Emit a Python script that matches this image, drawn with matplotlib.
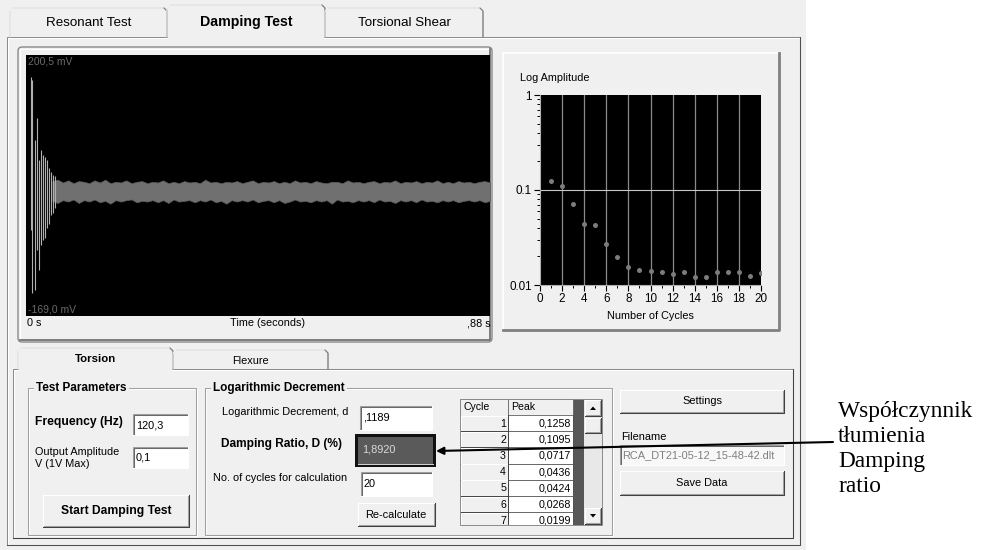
import matplotlib
matplotlib.use('Agg')
import matplotlib.pyplot as plt
from matplotlib.patches import Rectangle, Polygon, FancyBboxPatch
from matplotlib.ticker import LogLocator, NullFormatter, FixedLocator

W, H = 981, 550
UI = ['Liberation Sans', 'DejaVu Sans']
SERIF = ['Liberation Serif', 'DejaVu Serif']

# ---------------- data ----------------
main_tabs = ['Resonant Test', 'Damping Test', 'Torsional Shear']
sub_tabs = ['Torsion', 'Flexure']
cycle_numbers = [1, 2, 3, 4, 5, 6, 7, 8, 9, 10, 11, 12, 13, 14, 15, 16, 17, 18, 19, 20]
peak_values = [0.1258, 0.1095, 0.0717, 0.0436, 0.0424, 0.0268, 0.0199, 0.0153, 0.0144, 0.0141,
               0.0136, 0.0130, 0.0136, 0.0120, 0.0120, 0.0136, 0.0136, 0.0136, 0.0125, 0.0133]
rows_visible = 7
cycle_ticks = [0, 2, 4, 6, 8, 10, 12, 14, 16, 18, 20]
amp_ticks = [0.01, 0.1, 1]
amp_tick_labels = ['0.01', '0.1', '1']

wave_t_max = 0.88
wave_v_max = 200.5
wave_v_min = -169.0
# initial transient spikes (time s, upper mV, lower mV)
spike_t = [0.0095, 0.0123, 0.0171, 0.0209, 0.0247, 0.0285, 0.0323, 0.0361, 0.0398, 0.0436, 0.0474, 0.0512, 0.0550]
spike_hi = [169, 165, 80, 111, 52, 66, 59, 56, 52, 40, 35, 31, 29]
spike_lo = [-47, -136, -132, -76, -104, -68, -61, -59, -45, -39, -26, -23, -16]
# steady-state band envelope
band_t = [0.05, 0.06, 0.07, 0.08, 0.09, 0.10, 0.11, 0.12, 0.13, 0.14, 0.15, 0.16, 0.17, 0.18,
          0.19, 0.20, 0.21, 0.22, 0.23, 0.24, 0.25, 0.26, 0.27, 0.28, 0.29, 0.30, 0.31, 0.32,
          0.33, 0.34, 0.35, 0.36, 0.37, 0.38, 0.39, 0.40, 0.41, 0.42, 0.43, 0.44, 0.45, 0.46,
          0.47, 0.48, 0.49, 0.50, 0.51, 0.52, 0.53, 0.54, 0.55, 0.56, 0.57, 0.58, 0.59, 0.60,
          0.61, 0.62, 0.63, 0.64, 0.65, 0.66, 0.67, 0.68, 0.69, 0.70, 0.71, 0.72, 0.73, 0.74,
          0.75, 0.76, 0.77, 0.78, 0.79, 0.80, 0.81, 0.82, 0.83, 0.84, 0.85, 0.86, 0.87, 0.88]
band_hi = [22, 24, 20, 23, 19, 22, 21, 19, 23, 20, 24, 19, 21, 20, 23, 19, 21, 22, 19, 21,
           20, 23, 19, 21, 19, 22, 20, 21, 19, 24, 20, 21, 19, 21, 20, 22, 19, 21, 23, 19,
           21, 20, 22, 19, 21, 19, 23, 20, 21, 19, 22, 20, 19, 21, 21, 19, 23, 20, 21, 19,
           21, 22, 19, 21, 20, 23, 19, 21, 20, 22, 19, 21, 20, 23, 19, 21, 19, 22, 20, 21,
           19, 21, 22, 20]
band_lo = [-6, -9, -5, -7, -4, -9, -5, -7, -4, -8, -6, -10, -5, -7, -5, -4, -8, -6, -7, -5,
           -8, -5, -9, -4, -7, -6, -5, -8, -5, -7, -4, -8, -6, -10, -5, -7, -5, -7, -4, -8,
           -6, -5, -8, -5, -9, -7, -4, -7, -6, -8, -5, -7, -5, -10, -4, -7, -6, -8, -5, -7,
           -5, -8, -4, -7, -6, -9, -5, -7, -5, -8, -4, -7, -6, -8, -5, -7, -5, -8, -6, -5,
           -7, -5, -8, -6]

frequency_hz = '120,3'
output_amplitude = '0,1'
log_decrement = ',1189'
damping_ratio = '1,8920'
n_cycles = '20'
filename = 'RCA_DT21-05-12_15-48-42.dlt'
annotation_lines = ['Współczynnik', 'tłumienia', 'Damping', 'ratio']

# ---------------- helpers ----------------
fig = plt.figure(figsize=(W / 100, H / 100), dpi=100)
fig.patch.set_facecolor('white')
bg = fig.add_axes([0, 0, 1, 1])
bg.set_xlim(0, W)
bg.set_ylim(H, 0)
bg.axis('off')

FACE = '#f0f0f0'


def px_axes(x0, y0, x1, y1):
    return fig.add_axes([x0 / W, 1 - y1 / H, (x1 - x0) / W, (y1 - y0) / H])


def line(xs, ys, c, lw=0.75, z=3):
    bg.plot(xs, ys, color=c, lw=lw, solid_capstyle='projecting', zorder=z)


def rect(x0, y0, x1, y1, fc, ec='none', lw=0.75, z=2):
    bg.add_patch(Rectangle((x0, y0), x1 - x0, y1 - y0, fc=fc, ec=ec, lw=lw, zorder=z))


def txt(x, y, s, size=7.9, weight='normal', ha='left', va='center', color='black', z=6, family=UI, **kw):
    return bg.text(x, y, s, fontsize=size, fontweight=weight, ha=ha, va=va, color=color,
                   family=family, zorder=z, **kw)


def raised(x0, y0, x1, y1, fc=FACE, z=3):
    rect(x0, y0, x1, y1, fc, z=z)
    line([x0, x0, x1], [y1, y0, y0], 'white', z=z + 0.1)
    line([x0, x1, x1], [y1, y1, y0], '#404040', z=z + 0.1)
    line([x0 + 1, x1 - 1, x1 - 1], [y1 - 1, y1 - 1, y0 + 1], '#a0a0a0', z=z + 0.1)


def sunken(x0, y0, x1, y1, fc='white', z=3):
    rect(x0, y0, x1, y1, fc, z=z)
    line([x0, x0, x1], [y1, y0, y0], '#a0a0a0', z=z + 0.1)
    line([x0 + 1, x0 + 1, x1 - 1], [y1 - 1, y0 + 1, y0 + 1], '#696969', z=z + 0.1)
    line([x0, x1, x1], [y1, y1, y0], 'white', z=z + 0.1)


def group(x0, y0, x1, y1, title, z=3):
    bg.add_patch(Rectangle((x0 + 1, y0 + 1), x1 - x0, y1 - y0, fill=False, ec='white', lw=0.75, zorder=z))
    bg.add_patch(Rectangle((x0, y0), x1 - x0, y1 - y0, fill=False, ec='#a0a0a0', lw=0.75, zorder=z))
    txt(x0 + 8, y0, title, size=8.5, weight='bold', z=z + 1,
        bbox=dict(fc=FACE, ec='none', pad=1.5))


def tab(x0, x1, ytop, ybot, label, selected, size, weight):
    pts = [(x0, ybot), (x0, ytop + 3), (x0 + 3, ytop), (x1 - 3, ytop), (x1, ytop + 3), (x1, ybot)]
    bg.add_patch(Polygon(pts, closed=True, fc=FACE, ec='none', zorder=4))
    xs = [p[0] for p in pts]
    ys = [p[1] for p in pts]
    line(xs[:4], ys[:4], 'white', z=4.2)
    line(xs[3:], ys[3:], '#7a7a7a', z=4.2)
    bg.add_patch(Polygon(pts, closed=False, fill=False, ec='#9a9a9a', lw=0.6, zorder=4.1))
    if selected:
        rect(x0 + 0.8, ybot - 1, x1 - 0.8, ybot + 1.5, FACE, z=4.3)
    txt((x0 + x1) / 2, (ytop + ybot) / 2 + 1, label, size=size, weight=weight, ha='center', z=5)


# ---------------- window background ----------------
rect(0, 0, 806, H, FACE, z=0)

# main panel
bg.add_patch(Rectangle((7, 37), 793, 508, fill=False, ec='#8a8a8a', lw=0.75, zorder=1))
line([8, 8, 799], [544, 38, 38], 'white', z=1.1)
line([7, 800, 800], [545, 545, 37], '#505050', z=1.1)

# main tabs
tab_x = [10, 167, 325, 483]
for i, lab in enumerate(main_tabs):
    sel = i == 1
    tab(tab_x[i], tab_x[i + 1], 5 if sel else 8, 37, lab, sel,
        10.2 if sel else 9.6, 'bold' if sel else 'normal')

# ---------------- waveform frame ----------------
bg.add_patch(FancyBboxPatch((18, 47), 474, 295, boxstyle='round,pad=0,rounding_size=4',
                            fc=FACE, ec='#8a8a8a', lw=1.0, zorder=2))
line([20, 20, 490], [340, 49, 49], 'white', z=2.1)
line([20, 490, 490], [340, 340, 49], '#6a6a6a', lw=1.2, z=2.1)
txt(27, 323, '0 s', size=7.8)
txt(267, 323, 'Time (seconds)', size=7.8, ha='center')
txt(491, 323, ',88 s', size=7.8, ha='right')

wax = px_axes(26, 55, 490, 316)
wax.set_facecolor('black')
wax.set_xlim(0, wave_t_max)
wax.set_ylim(wave_v_min, wave_v_max)
wax.set_xticks([])
wax.set_yticks([])
for s in wax.spines.values():
    s.set_visible(False)
wax.fill_between(band_t, band_lo, band_hi, color='#707070', lw=0.5, edgecolor='#5c5c5c')
wax.vlines(spike_t, spike_lo, spike_hi, color='#b0b0b0', lw=0.8)
wax.text(0.004, 0.995, '200,5 mV', transform=wax.transAxes, color='#6a6a6a', va='top',
         ha='left', fontsize=7.5, family=UI)
wax.text(0.004, 0.005, '-169,0 mV', transform=wax.transAxes, color='#6a6a6a', va='bottom',
         ha='left', fontsize=7.5, family=UI)

# ---------------- log amplitude panel ----------------
rect(503, 53, 779, 330, FACE, z=2)
line([503, 503, 779], [330, 53, 53], 'white', lw=1.2, z=2.1)
line([503, 779, 779], [330, 330, 53], '#808080', lw=2.0, z=2.1)
txt(520, 78, 'Log Amplitude', size=7.8)
txt(650, 316, 'Number of Cycles', size=7.8, ha='center')

lax = px_axes(540, 95, 761, 285)
lax.set_facecolor('black')
lax.set_yscale('log')
lax.set_xlim(0, 20)
lax.set_ylim(0.01, 1)
for xv in cycle_ticks[1:-1]:
    lax.axvline(xv, color='#8a8a8a', lw=0.9, zorder=1)
lax.axhline(0.1, color='#c8c8c8', lw=0.8, zorder=1)
lax.plot(cycle_numbers, peak_values, 'o', ms=3.6, color='#7c7c7c', mec='none', zorder=3)
lax.xaxis.set_major_locator(FixedLocator(cycle_ticks))
lax.set_xticklabels([str(v) for v in cycle_ticks])
lax.xaxis.set_minor_locator(FixedLocator(cycle_numbers))
lax.yaxis.set_major_locator(FixedLocator(amp_ticks))
lax.set_yticklabels(amp_tick_labels)
lax.yaxis.set_minor_locator(LogLocator(base=10, subs=[2, 3, 4, 5, 6, 7, 8, 9]))
lax.yaxis.set_minor_formatter(NullFormatter())
lax.tick_params(which='major', direction='out', length=4, width=0.8, labelsize=8.4, pad=2)
lax.tick_params(which='minor', direction='out', length=2.5, width=0.7)
for lab in lax.get_xticklabels() + lax.get_yticklabels():
    lab.set_family(UI)
for k, s in lax.spines.items():
    s.set_color('#b0b0b0')
    s.set_linewidth(0.8)
lax.spines['top'].set_visible(False)
lax.spines['right'].set_visible(False)

# ---------------- bottom sub-panel ----------------
bg.add_patch(Rectangle((13, 369), 780, 169, fill=False, ec='#8a8a8a', lw=0.75, zorder=1))
line([14, 14, 792], [537, 370, 370], 'white', z=1.1)
line([13, 793, 793], [538, 538, 369], '#404040', z=1.1)
sub_x = [18, 173, 328]
for i, lab in enumerate(sub_tabs):
    sel = i == 0
    tab(sub_x[i], sub_x[i + 1], 348 if sel else 350, 369, lab, sel,
        8.2 if sel else 7.8, 'bold' if sel else 'normal')

# Test Parameters group
group(28, 388, 196, 535, 'Test Parameters')
txt(35, 422, 'Frequency (Hz)', size=8.7, weight='bold')
sunken(133, 414, 188, 435)
txt(136, 425, frequency_hz, size=7.9, z=7)
txt(35, 452, 'Output Amplitude', size=7.8)
txt(35, 464, 'V (1V Max)', size=7.8)
sunken(133, 447, 188, 468)
txt(136, 458, output_amplitude, size=7.9, z=7)
raised(43, 495, 189, 527)
txt(116, 511, 'Start Damping Test', size=8.7, weight='bold', ha='center', z=7)

# Logarithmic Decrement group
group(205, 388, 612, 535, 'Logarithmic Decrement')
txt(222, 412, 'Logarithmic Decrement, d', size=7.9)
sunken(360, 406, 432, 430)
txt(363, 418, log_decrement, size=7.9, z=7)
txt(221, 444, 'Damping Ratio, D (%)', size=8.6, weight='bold')
rect(355, 434, 436, 467, '#111111', z=3)
rect(358, 437, 433, 464, '#5a5a5a', z=3.2)
line([358, 433], [463.5, 463.5], '#d0d0d0', z=3.3)
txt(362, 450, damping_ratio, size=7.9, color='#d8d8d8', z=7)
txt(213, 478, 'No. of cycles for calculation', size=7.9)
sunken(361, 472, 432, 496)
txt(364, 484, n_cycles, size=7.9, z=7)
raised(358, 503, 435, 526)
txt(396, 515, 'Re-calculate', size=7.9, ha='center', z=7)

# table
tx0, tc1, tc2, tdk, tsb, tx1 = 460, 508, 573, 573, 584, 602
ty0, thead, rowh, ty1 = 399, 415, 16.2, 525
rect(tx0, ty0, tx1, ty1, 'white', z=3)
rect(tdk, ty0, tsb, ty1, '#575757', z=3.1)
# header
rect(tx0, ty0, tc2, thead, FACE, ec='#606060', lw=0.6, z=3.2)
line([tc1, tc1], [ty0, thead], '#606060', lw=0.6, z=3.3)
txt(tx0 + 3, 407.5, 'Cycle', size=7.6, z=7)
txt(tc1 + 3, 407.5, 'Peak', size=7.6, z=7)
for i in range(rows_visible):
    y0 = thead + i * rowh
    y1 = min(y0 + rowh, ty1)
    rect(tx0, y0, tc1, y1, FACE, z=3.2)
    line([tx0 + 0.5, tx0 + 0.5, tc1 - 0.5], [y1, y0 + 0.5, y0 + 0.5], 'white', z=3.3)
    line([tx0, tc1, tc1], [y1, y1, y0], '#404040', lw=0.7, z=3.3)
    line([tc1, tc2], [y1, y1], '#505050', lw=0.6, z=3.3)
    line([tc2, tc2], [y0, y1], '#505050', lw=0.6, z=3.3)
    yc = y0 + rowh / 2 + 0.5
    txt(tc1 - 2, yc, str(cycle_numbers[i]), size=7.7, ha='right', z=7)
    txt(tc2 - 2, yc, f'{peak_values[i]:.4f}'.replace('.', ','), size=7.7, ha='right', z=7)
# scrollbar
rect(tsb, ty0, tx1, ty1, '#e8e8e8', z=3.4)
raised(tsb + 1, ty0 + 1, tx1 - 1, ty0 + 17, z=3.5)
raised(tsb + 1, ty0 + 19, tx1 - 1, ty0 + 34, z=3.5)
raised(tsb + 1, ty1 - 17, tx1 - 1, ty1 - 1, z=3.5)
xm = (tsb + tx1) / 2
bg.add_patch(Polygon([(xm - 3, ty0 + 11), (xm + 3, ty0 + 11), (xm, ty0 + 7.5)], fc='black', ec='none', zorder=3.8))
bg.add_patch(Polygon([(xm - 3, ty1 - 11), (xm + 3, ty1 - 11), (xm, ty1 - 7.5)], fc='black', ec='none', zorder=3.8))
bg.add_patch(Rectangle((tx0, ty0), tx1 - tx0, ty1 - ty0, fill=False, ec='#8a8a8a', lw=0.7, zorder=8))
rect(tx0 - 1, ty1 + 0.4, tx1 + 1, ty1 + 9, FACE, z=7.5)

# right side controls
raised(620, 390, 784, 413)
txt(702, 401, 'Settings', size=7.9, ha='center', z=7)
txt(621, 437, 'Filename', size=7.9)
sunken(620, 445, 784, 465, fc='#f8f8f8')
txt(622, 455, filename, size=7.9, color='#808080', z=7)
raised(620, 471, 784, 495)
txt(702, 483, 'Save Data', size=7.9, ha='center', z=7)

# ---------------- annotation ----------------
bg.annotate('', xy=(436, 451), xytext=(833, 442),
            arrowprops=dict(arrowstyle='-|>', color='black', lw=1.5, mutation_scale=11,
                            shrinkA=0, shrinkB=0), zorder=9)
ann_y = [417, 442, 467, 492]
for s, y in zip(annotation_lines, ann_y):
    txt(838, y, s, size=16.8, va='baseline', family=SERIF)

fig.savefig('out.png', dpi=100, facecolor='white')
